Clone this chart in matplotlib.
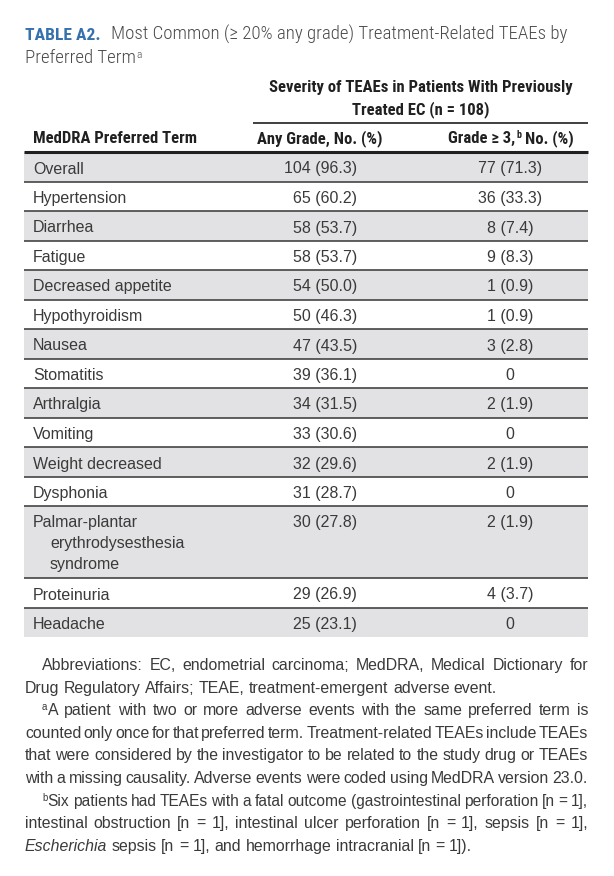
import matplotlib.pyplot as plt
from matplotlib.patches import Rectangle

## table data
terms = ["Overall", "Hypertension", "Diarrhea", "Fatigue", "Decreased appetite",
         "Hypothyroidism", "Nausea", "Stomatitis", "Arthralgia", "Vomiting",
         "Weight decreased", "Dysphonia",
         "Palmar-plantar\nerythrodysesthesia\nsyndrome", "Proteinuria", "Headache"]
any_n = [104, 65, 58, 58, 54, 50, 47, 39, 34, 33, 32, 31, 30, 29, 25]
any_pct = [96.3, 60.2, 53.7, 53.7, 50.0, 46.3, 43.5, 36.1, 31.5, 30.6, 29.6, 28.7, 27.8, 26.9, 23.1]
g3_n = [77, 36, 8, 9, 1, 1, 3, 0, 2, 0, 2, 0, 2, 4, 0]
g3_pct = [71.3, 33.3, 7.4, 8.3, 0.9, 0.9, 2.8, 0.0, 1.9, 0.0, 1.9, 0.0, 1.9, 3.7, 0.0]

title_lead = "TABLE A2."
title_rest = "Most Common (≥ 20% any grade) Treatment-Related TEAEs by"
group_header = ["Severity of TEAEs in Patients With Previously", "Treated EC (n = 108)"]
col_term = "MedDRA Preferred Term"
col_any = "Any Grade, No. (%)"

## footnotes (^x = superscript, *word* = italic)
notes = [
    ["Abbreviations: EC, endometrial carcinoma; MedDRA, Medical Dictionary for",
     "Drug Regulatory Affairs; TEAE, treatment-emergent adverse event."],
    ["^aA patient with two or more adverse events with the same preferred term is",
     "counted only once for that preferred term. Treatment-related TEAEs include TEAEs",
     "that were considered by the investigator to be related to the study drug or TEAEs",
     "with a missing causality. Adverse events were coded using MedDRA version 23.0."],
    ["^bSix patients had TEAEs with a fatal outcome (gastrointestinal perforation [n = 1],",
     "intestinal obstruction [n = 1], intestinal ulcer perforation [n = 1], sepsis [n = 1],",
     "*Escherichia* sepsis [n = 1], and hemorrhage intracranial [n = 1])."],
]

## style
BODY = ["Liberation Sans", "DejaVu Sans"]
BOLD = ["Roboto Condensed", "Liberation Sans Narrow", "Roboto", "Liberation Sans", "DejaVu Sans"]
LIGHT = ["Roboto Condensed", "Lato", "Liberation Sans", "DejaVu Sans"]
TXT = "#3a3a3a"
DARK = "#202020"
BLUE = "#3471ad"
GRAY = "#e2e1e3"
RULE = "#444444"

fig = plt.figure(figsize=(6.14, 8.76), dpi=100)
ax = fig.add_axes([0, 0, 1, 1])
ax.set_xlim(0, 614)
ax.set_ylim(876, 0)
ax.axis("off")
R = fig.canvas.get_renderer()

LEFT, RIGHT = 24, 588


def wid(t):
    return t.get_window_extent(R).width


def space_w(kw):
    kw = {k: v for k, v in kw.items() if k != "rise"}
    a = ax.text(0, 0, "n n", **kw)
    b = ax.text(0, 0, "nn", **kw)
    w = wid(a) - wid(b)
    a.remove()
    b.remove()
    return w


def fit(text, kw, target):
    # font size that gives the text the width seen in the reference
    t = ax.text(0, 0, text, **kw)
    s = kw["size"] * target / wid(t)
    t.remove()
    return dict(kw, size=s)


def runs(x, y, parts, ha="left"):
    # parts: (text, kw, gap_after) drawn on one baseline
    objs = []
    for s, kw, gap in parts:
        kw = dict(kw)
        rise = kw.pop("rise", 0)
        objs.append((ax.text(0, y - rise, s, va="baseline", ha="left", **kw), gap))
    total = sum(wid(o) + g for o, g in objs)
    x0 = x - total if ha == "right" else x - total / 2 if ha == "center" else x
    for o, g in objs:
        o.set_x(x0)
        x0 += wid(o) + g
    return total


## title
t_bold = fit(title_lead, dict(family=BOLD, weight="bold", size=13, color=BLUE), 75)
t_reg = fit(title_rest, dict(family=LIGHT, weight="light", size=13, color="#4a4a4a"), 453)
t_sup = dict(t_reg, size=t_reg["size"] * 0.6, rise=5)
runs(25, 39.5, [(title_lead, t_bold, 110 - 25 - 75), (title_rest, t_reg, 0)])
runs(25, 63, [("Preferred Term", t_reg, 0.5), ("a", t_sup, 0)])

## headers
h_kw = fit(col_term, dict(family=BOLD, weight="bold", size=12, color=DARK), 164)
h_sup = dict(h_kw, size=h_kw["size"] * 0.6, rise=5)
runs(421, 92, [(group_header[0], h_kw, 0)], ha="center")
runs(421, 114, [(group_header[1], h_kw, 0)], ha="center")
ax.hlines(123, 253, RIGHT, color=DARK, lw=1.2)
runs(33, 143, [(col_term, h_kw, 0)])
runs(320, 143, [(col_any, h_kw, 0)], ha="center")
runs(511, 143, [("Grade ≥ 3,", h_kw, 0.5), ("b", h_sup, space_w(h_kw)), ("No. (%)", h_kw, 0)],
     ha="center")

## rows
b_kw = dict(family=BODY, size=11.5, color=TXT)
row_h = [72 if "\n" in t else 29.5 for t in terms]
top = 152
for i, term in enumerate(terms):
    h = row_h[i]
    if i % 2 == 0:
        ax.add_patch(Rectangle((LEFT, top), RIGHT - LEFT, h, color=GRAY, lw=0, zorder=0))
    base = top + 21.5
    for j, line in enumerate(term.split("\n")):
        runs(33 if j == 0 else 50, base + j * 20.5, [(line, b_kw, 0)])
    runs(357, base, [(f"{any_n[i]} ({any_pct[i]:.1f})", b_kw, 0)], ha="right")
    g3 = "0" if g3_n[i] == 0 else f"{g3_n[i]} ({g3_pct[i]:.1f})"
    runs(510, base, [(g3, b_kw, 0)], ha="center")
    top += h
    if i < len(terms) - 1:
        ax.hlines(top, LEFT, RIGHT, color=RULE, lw=1.2, zorder=2)
ax.hlines(152, LEFT, RIGHT, color=DARK, lw=2.2, zorder=3)

## footnotes, justified
f_size = 11.4


def word_parts(word, size):
    kw = dict(family=BODY, size=size, color=TXT)
    if word.startswith("^"):
        return [(word[1], dict(kw, size=size * 0.62, rise=5), 0.3), (word[2:], kw, 0)]
    if word.startswith("*"):
        end = word.index("*", 1)
        return [(word[1:end], dict(kw, style="italic"), 0)] + \
            ([(word[end + 1:], kw, 0)] if word[end + 1:] else [])
    return [(word, kw, 0)]


def note_line(x0, x1, y, text, justify):
    size = f_size
    while True:
        words = text.split(" ")
        objs = []
        for w in words:
            parts = []
            for s, kw, g in word_parts(w, size):
                kw = dict(kw)
                rise = kw.pop("rise", 0)
                parts.append((ax.text(0, y - rise, s, va="baseline", **kw), g))
            objs.append(parts)
        ww = [sum(wid(o) + g for o, g in p) for p in objs]
        sp = space_w(dict(family=BODY, size=size))
        natural = sum(ww) + sp * (len(ww) - 1)
        if natural <= (x1 - x0) * 1.04 or size < 9:
            break
        for p in objs:
            for o, g in p:
                o.remove()
        size -= 0.2
    gap = (x1 - x0 - sum(ww)) / (len(ww) - 1) if justify else sp
    x = x0
    for p, w in zip(objs, ww):
        xx = x
        for o, g in p:
            o.set_x(xx)
            xx += wid(o) + g
        x += w + gap


y = 670
for para in notes:
    for k, line in enumerate(para):
        last = k == len(para) - 1
        note_line(42 if k == 0 else 25, RIGHT, y, line,
                  justify=not last or para is notes[1])
        y += 22.6

plt.savefig("out.png", dpi=100)
